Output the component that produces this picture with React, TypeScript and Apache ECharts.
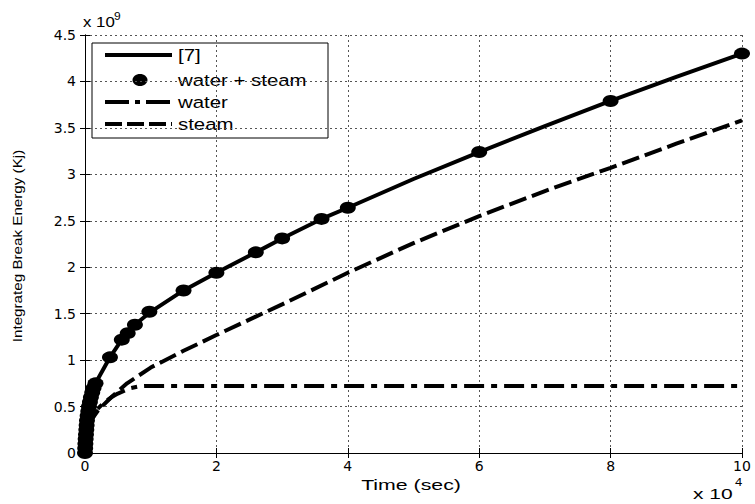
import React, { useEffect, useRef } from "react";
import * as echarts from "echarts";

// Time in units of 1e4 s, energy in units of 1e9 kJ
const ref7Time = [0, 0.01, 0.03, 0.06, 0.1, 0.16, 0.38, 0.56, 0.76, 1, 1.5, 2, 2.6, 3, 3.6, 4, 5, 6, 7, 8, 9, 10];
const ref7Energy = [0, 0.15, 0.35, 0.5, 0.63, 0.75, 1.03, 1.22, 1.38, 1.52, 1.75, 1.94, 2.16, 2.31, 2.52, 2.64, 2.95, 3.24, 3.52, 3.79, 4.05, 4.3];

const dotTime = [0, 0.003, 0.006, 0.01, 0.015, 0.02, 0.025, 0.03, 0.04, 0.05, 0.06, 0.075, 0.09, 0.11, 0.13, 0.16, 0.38, 0.56, 0.65, 0.76, 0.98, 1.5, 2, 2.6, 3, 3.6, 4, 6, 8, 10];
const dotEnergy = [0, 0.05, 0.1, 0.15, 0.2, 0.25, 0.3, 0.35, 0.4, 0.45, 0.5, 0.55, 0.6, 0.65, 0.7, 0.75, 1.03, 1.22, 1.29, 1.38, 1.52, 1.75, 1.94, 2.16, 2.31, 2.52, 2.64, 3.24, 3.79, 4.3];

const waterTime = [0.02, 0.05, 0.1, 0.2, 0.3, 0.4, 0.5, 0.6, 0.7, 0.8, 0.9, 1, 10];
const waterEnergy = [0.22, 0.33, 0.4, 0.48, 0.55, 0.6, 0.64, 0.67, 0.7, 0.715, 0.72, 0.72, 0.72];

const steamTime = [0.05, 0.1, 0.2, 0.4, 0.64, 1, 1.5, 2, 3, 4, 5, 6, 7, 8, 9, 10];
const steamEnergy = [0.3, 0.36, 0.46, 0.6, 0.75, 0.92, 1.1, 1.27, 1.6, 1.94, 2.26, 2.55, 2.82, 3.07, 3.33, 3.58];

const xTicks = [0, 2, 4, 6, 8, 10];
const yTicks = [0, 0.5, 1, 1.5, 2, 2.5, 3, 3.5, 4, 4.5];

const legendNames = ["[7]", "water + steam", "water", "steam"];
const xTitle = "Time (sec)";
const yTitle = "Integrateg Break Energy (Kj)";
const yExp = "9";
const xExp = "4";

const FONT = "'Liberation Sans', Arial, sans-serif";
const TICKFONT = "'DejaVu Sans', 'Liberation Sans', sans-serif";
const WATER_DASH = [20, 7, 6, 7];
const STEAM_DASH = [18, 6];

const zip = (a: number[], b: number[]) => a.map((v, i) => [v, b[i]]);

export default function App() {
  const ref = useRef<HTMLDivElement>(null);
  useEffect(() => {
    if (!ref.current) return;
    const chart = echarts.init(ref.current, null, { renderer: "svg" });
    const gridLine = { show: true, lineStyle: { color: "#555", type: [2, 3] as any, width: 1 } };
    const axisLine = { show: true, lineStyle: { color: "#000", width: 1 } };
    const tickIn = { show: true, inside: true, length: 5, lineStyle: { color: "#000" } };
    const label = { color: "#000", fontFamily: TICKFONT, fontSize: 14 };
    const lx = 92, ly = 43;
    const rowY = [12, 37, 59, 81];
    chart.setOption({
      animation: false,
      backgroundColor: "#fff",
      grid: { left: 85, right: 13, top: 35, bottom: 51, containLabel: false },
      xAxis: [
        {
          type: "value", min: 0, max: 10, interval: 2, position: "bottom",
          axisLine, axisTick: tickIn, splitLine: gridLine,
          axisLabel: { ...label, margin: 6, formatter: (v: number) => (xTicks.includes(v) ? String(v) : "") },
        },
        {
          type: "value", min: 0, max: 10, interval: 2, position: "top",
          axisLine, axisTick: tickIn, splitLine: { show: false }, axisLabel: { show: false },
        },
      ],
      yAxis: [
        {
          type: "value", min: 0, max: 4.5, interval: 0.5, position: "left",
          axisLine, axisTick: tickIn, splitLine: gridLine,
          axisLabel: { ...label, margin: 9, formatter: (v: number) => (yTicks.includes(v) ? String(v) : "") },
        },
        {
          type: "value", min: 0, max: 4.5, interval: 0.5, position: "right",
          axisLine, axisTick: tickIn, splitLine: { show: false }, axisLabel: { show: false },
        },
      ],
      series: [
        {
          name: legendNames[0], type: "line", data: zip(ref7Time, ref7Energy), showSymbol: false,
          lineStyle: { color: "#000", width: 4 }, z: 3,
        },
        {
          name: legendNames[1], type: "scatter", data: zip(dotTime, dotEnergy), symbol: "circle", symbolSize: [16, 12],
          itemStyle: { color: "#000", opacity: 1 }, clip: false, z: 4,
        },
        {
          name: legendNames[2], type: "line", data: zip(waterTime, waterEnergy), showSymbol: false,
          lineStyle: { color: "#000", width: 4, type: WATER_DASH }, z: 2,
        },
        {
          name: legendNames[3], type: "line", data: zip(steamTime, steamEnergy), showSymbol: false,
          lineStyle: { color: "#000", width: 4, type: STEAM_DASH }, z: 2,
        },
      ],
      graphic: [
        {
          type: "text", x: 83, y: 22, scaleX: 1.2,
          style: { text: "x 10", fontFamily: FONT, fontSize: 14, fill: "#000", verticalAlign: "middle" },
        },
        {
          type: "text", x: 114, y: 16, scaleX: 1.2,
          style: { text: yExp, fontFamily: FONT, fontSize: 10, fill: "#000", verticalAlign: "middle" },
        },
        {
          type: "text", x: 693, y: 494, scaleX: 1.5,
          style: { text: "x 10", fontFamily: FONT, fontSize: 14, fill: "#000", verticalAlign: "middle" },
        },
        {
          type: "text", x: 735, y: 483, scaleX: 1.3,
          style: { text: xExp, fontFamily: FONT, fontSize: 10, fill: "#000", verticalAlign: "middle" },
        },
        {
          type: "text", x: 411, y: 485, scaleX: 1.42,
          style: { text: xTitle, fontFamily: FONT, fontSize: 15, fill: "#000", align: "center", verticalAlign: "middle" },
        },
        {
          type: "text", x: 17, y: 246, rotation: Math.PI / 2, scaleX: 1.17,
          style: { text: yTitle, fontFamily: FONT, fontSize: 13, fill: "#000", align: "center", verticalAlign: "middle" },
        },
        {
          type: "group", x: lx, y: ly, z: 100,
          children: [
            { type: "rect", shape: { x: 0, y: 0, width: 236, height: 95 }, style: { fill: "#fff", stroke: "#000", lineWidth: 1 } },
            { type: "line", shape: { x1: 13, y1: rowY[0], x2: 80, y2: rowY[0] }, style: { stroke: "#000", lineWidth: 4 } },
            { type: "ellipse", shape: { cx: 48, cy: rowY[1], rx: 7.5, ry: 6 }, style: { fill: "#000" } },
            { type: "line", shape: { x1: 13, y1: rowY[2], x2: 80, y2: rowY[2] }, style: { stroke: "#000", lineWidth: 4, lineDash: [24, 6, 5, 6] } },
            { type: "line", shape: { x1: 13, y1: rowY[3], x2: 80, y2: rowY[3] }, style: { stroke: "#000", lineWidth: 4, lineDash: [17, 5] } },
            ...legendNames.map((n, i) => ({
              type: "text", x: 86, y: rowY[i], scaleX: 1.2,
              style: { text: n, fontFamily: FONT, fontSize: 17, fill: "#000", verticalAlign: "middle" },
            })),
          ],
        },
      ],
    });
    return () => chart.dispose();
  }, []);
  return <div ref={ref} style={{ width: 755, height: 504, position: "absolute", left: 0, top: 0 }} />;
}
